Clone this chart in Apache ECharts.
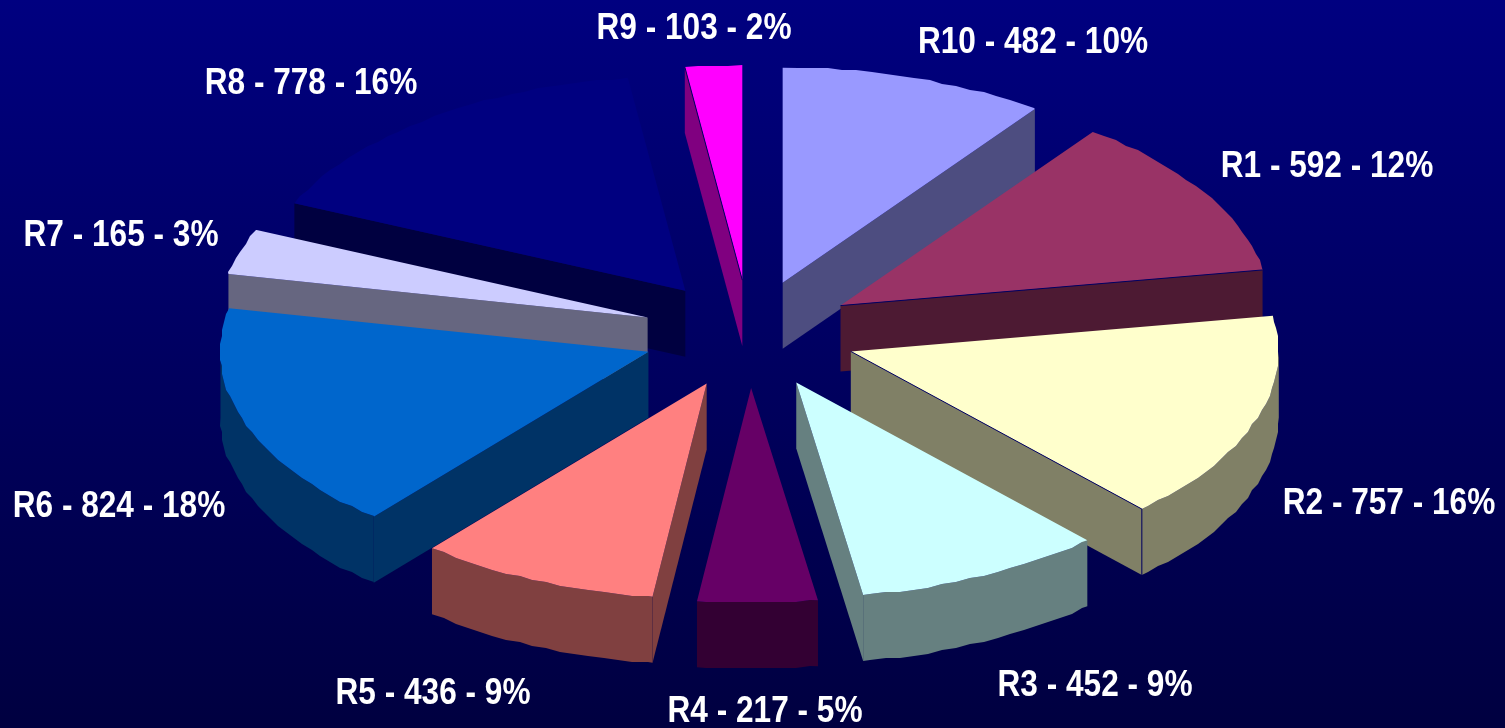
<!DOCTYPE html>
<html>
<head>
<meta charset="utf-8">
<style>
html,body{margin:0;padding:0;background:#000060;}
#chart{width:1505px;height:728px;}
</style>
<script src="https://cdn.jsdelivr.net/npm/echarts@6/dist/echarts.min.js"></script>
</head>
<body>
<div id="chart"></div>
<script type="text/javascript">
var categories = ['R10','R1','R2','R3','R4','R5','R6','R7','R8','R9'];
var values = [482,592,757,452,217,436,824,165,778,103];
var percents = ['10%','12%','16%','9%','5%','9%','18%','3%','16%','2%'];
var topColors = ['#9999FF','#993366','#FFFFCC','#CCFFFF','#660066','#FF8080','#0066CC','#CCCCFF','#000080','#FF00FF'];
var sideColors = ['#4D4D80','#4D1A33','#808066','#668080','#330033','#804040','#003366','#666680','#000040','#800080'];

//标签中心位置
var labelX = [1033,1327,1389,1095,765,433,119,121,311,694];
var labelY = [43,167,504,686,712,694,507,236,84,29];

//饼图几何参数
var cx = 749.5, cy = 334, rx = 428, ry = 215, depth = 66, explodeX = 107, explodeY = 54;
var FACET = 2, STEP = 2;
var SEAM = '#000060';
var seamSlices = ['R1','R2','R9'];

var total = 0;
values.forEach(function(v){ total += v; });

var startAngles = [];
var sum = 0;
values.forEach(function(v){
	startAngles.push(sum / total * 360);
	sum += v;
});

function rad(a){ return a * Math.PI / 180; }

//椭圆上的点，边缘取整后形成和原图一样的锯齿
function rimPoint(o, a){
	return [
		Math.round((o[0] + rx * Math.sin(rad(a))) / FACET) * FACET,
		Math.round((o[1] - ry * Math.cos(rad(a))) / FACET) * FACET
	];
}
function exactPoint(o, a){
	return [o[0] + rx * Math.sin(rad(a)), o[1] - ry * Math.cos(rad(a))];
}
function down(p){ return [p[0], p[1] + depth]; }

//取样角度固定，顶面和弧面的边缘才能对齐
function arcPoints(o, a1, a2){
	var pts = [exactPoint(o, a1)];
	var a = (Math.floor(a1 / STEP) + 1) * STEP;
	for(;a<a2;a+=STEP){
		pts.push(rimPoint(o, a));
	}
	pts.push(exactPoint(o, a2));
	return pts;
}

function poly(points, color, z){
	return {type:'polygon', z2:z, shape:{points:points}, style:{fill:color}};
}
function seam(p1, p2, z){
	return {type:'line', z2:z, shape:{x1:p1[0],y1:p1[1],x2:p2[0],y2:p2[1]}, style:{stroke:SEAM,lineWidth:1}};
}

function renderSlice(params, api){
	var i = api.value(0);
	var a1 = startAngles[i];
	var a2 = a1 + api.value(1) / total * 360;
	var mid = (a1 + a2) / 2;
	var o = [
		cx + explodeX * Math.sin(rad(mid)),
		cy - explodeY * Math.cos(rad(mid))
	];
	//先画后面的扇区，再画前面的
	var z = Math.round(200 - Math.abs(mid - 180)) * 4;
	var children = [];
	var hasSeam = seamSlices.indexOf(categories[i]) >= 0;

	function wall(a){
		var p = exactPoint(o, a);
		children.push(poly([o, p, down(p), down(o)], sideColors[i], z));
		if(hasSeam && a > 90 && a < 270){
			children.push(seam(p, down(p), z + 2));
		}
		if(hasSeam){
			children.push(seam(o, p, z + 3));
		}
	}
	if(a2 > 0 && a2 < 180){ wall(a2); }
	if(a1 > 180 && a1 < 360){ wall(a1); }

	//外侧弧面，只有下半部分可见
	var s1 = Math.max(a1, 90), s2 = Math.min(a2, 270);
	if(s2 > s1){
		var upper = arcPoints(o, s1, s2);
		var lower = upper.map(down).reverse();
		children.push(poly(upper.concat(lower), sideColors[i], z + 1));
	}

	//顶面
	children.push(poly([o].concat(arcPoints(o, a1, a2)), topColors[i], z + 2));

	//标签
	children.push({
		type:'text',
		z2:2000,
		x:labelX[i],
		y:labelY[i],
		scaleX:0.878,
		style:{
			text:categories[i] + ' - ' + api.value(1) + ' - ' + percents[i],
			x:0,
			y:0,
			align:'center',
			verticalAlign:'middle',
			fill:'#FFFFFF',
			font:'bold 36px "Liberation Sans"'
		}
	});
	return {type:'group', children:children};
}

var seriesData = values.map(function(v, i){ return [i, v]; });

var chart = echarts.init(document.getElementById('chart'), null, {renderer:'canvas'});
chart.setOption({
	animation:false,
	backgroundColor:new echarts.graphic.LinearGradient(0, 0, 0, 1, [
		{offset:0, color:'#000080'},
		{offset:1, color:'#000040'}
	]),
	series:[{
		type:'custom',
		coordinateSystem:'none',
		renderItem:renderSlice,
		data:seriesData
	}]
});
</script>
</body>
</html>
